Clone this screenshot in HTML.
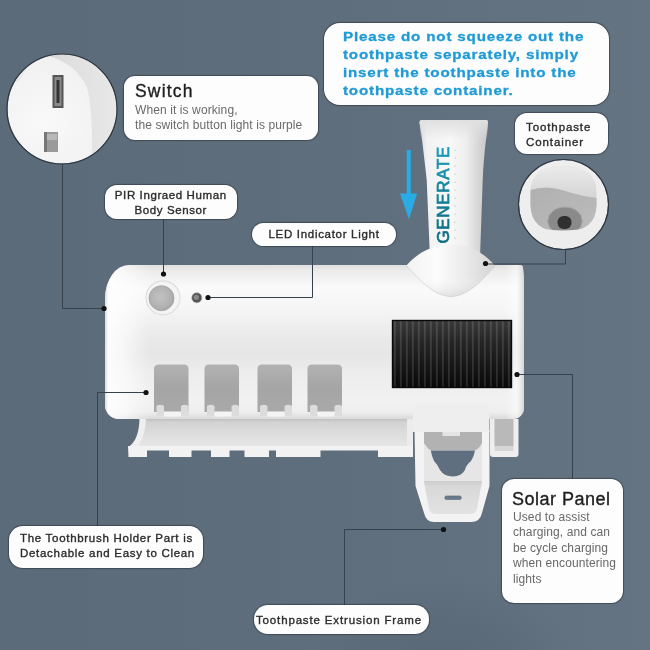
<!DOCTYPE html>
<html><head><meta charset="utf-8">
<style>
html,body{margin:0;padding:0;}
body{width:650px;height:650px;overflow:hidden;position:relative;background:#5e6e7f;font-family:"Liberation Sans",sans-serif;}
.bx{position:absolute;background:#fdfdfd;box-sizing:border-box;box-shadow:0 0 1px 1px rgba(42,52,62,0.6);}
.k{-webkit-text-stroke:0.35px currentColor;}
.t{position:absolute;white-space:nowrap;}
svg{position:absolute;left:0;top:0;}
#wrap{position:absolute;left:0;top:0;width:650px;height:650px;filter:blur(0.35px);}
</style></head><body><div id="wrap">
<svg width="650" height="650" viewBox="0 0 650 650">
<defs>
 <linearGradient id="bg" x1="0" y1="0" x2="1" y2="0">
  <stop offset="0" stop-color="#5c6b79"/>
  <stop offset="0.5" stop-color="#5f6e7c"/>
  <stop offset="1" stop-color="#647482"/>
 </linearGradient>
 <linearGradient id="body" x1="0" y1="265" x2="0" y2="419" gradientUnits="userSpaceOnUse">
  <stop offset="0" stop-color="#e0e0e0"/>
  <stop offset="0.045" stop-color="#ededed"/>
  <stop offset="0.15" stop-color="#fafafa"/>
  <stop offset="0.29" stop-color="#f5f5f5"/>
  <stop offset="0.48" stop-color="#e9e9e9"/>
  <stop offset="0.58" stop-color="#e6e6e6"/>
  <stop offset="0.71" stop-color="#ededed"/>
  <stop offset="0.88" stop-color="#f1f1f1"/>
  <stop offset="0.955" stop-color="#eeeeee"/>
  <stop offset="1" stop-color="#dadada"/>
 </linearGradient>
 <linearGradient id="bodyL" x1="105" y1="0" x2="150" y2="0" gradientUnits="userSpaceOnUse">
  <stop offset="0" stop-color="#d8d8d8" stop-opacity="0.9"/>
  <stop offset="0.07" stop-color="#ffffff" stop-opacity="0.9"/>
  <stop offset="0.45" stop-color="#ffffff" stop-opacity="0.6"/>
  <stop offset="1" stop-color="#ffffff" stop-opacity="0"/>
 </linearGradient>
 <linearGradient id="bodyR" x1="505" y1="0" x2="524" y2="0" gradientUnits="userSpaceOnUse">
  <stop offset="0" stop-color="#ffffff" stop-opacity="0"/>
  <stop offset="0.6" stop-color="#ffffff" stop-opacity="0.5"/>
  <stop offset="1" stop-color="#d0d0d0" stop-opacity="0.8"/>
 </linearGradient>
 <linearGradient id="slot" x1="0" y1="0" x2="0" y2="1">
  <stop offset="0" stop-color="#b2b2b2"/>
  <stop offset="0.5" stop-color="#a5a5a5"/>
  <stop offset="1" stop-color="#a9a9a9"/>
 </linearGradient>
 <linearGradient id="tray" x1="0" y1="418" x2="0" y2="447" gradientUnits="userSpaceOnUse">
  <stop offset="0" stop-color="#bcbcbc"/>
  <stop offset="0.15" stop-color="#d2d2d2"/>
  <stop offset="0.5" stop-color="#dcdcdc"/>
  <stop offset="1" stop-color="#e6e6e6"/>
 </linearGradient>
 <linearGradient id="solar" x1="0" y1="0" x2="0" y2="1">
  <stop offset="0" stop-color="#3a3a3a"/>
  <stop offset="0.3" stop-color="#262626"/>
  <stop offset="1" stop-color="#080808"/>
 </linearGradient>
 <pattern id="stripes" x="391.9" y="0" width="6" height="10" patternUnits="userSpaceOnUse">
  <rect x="2" y="0" width="1.8" height="10" fill="#ffffff" fill-opacity="0.13"/>
 </pattern>
 <linearGradient id="tube" x1="420" y1="0" x2="488" y2="0" gradientUnits="userSpaceOnUse">
  <stop offset="0" stop-color="#dadada"/>
  <stop offset="0.1" stop-color="#f2f2f2"/>
  <stop offset="0.45" stop-color="#f8f8f8"/>
  <stop offset="0.68" stop-color="#eeeeee"/>
  <stop offset="0.88" stop-color="#d4d4d4"/>
  <stop offset="1" stop-color="#c6c6c6"/>
 </linearGradient>
 <linearGradient id="tubeTop" x1="0" y1="120" x2="0" y2="140" gradientUnits="userSpaceOnUse">
  <stop offset="0" stop-color="#e0e0e0"/>
  <stop offset="1" stop-color="#e0e0e0" stop-opacity="0"/>
 </linearGradient>
 <linearGradient id="funnel" x1="406" y1="0" x2="495" y2="0" gradientUnits="userSpaceOnUse">
  <stop offset="0" stop-color="#f2f2f2"/>
  <stop offset="0.35" stop-color="#fcfcfc"/>
  <stop offset="0.6" stop-color="#eeeeee"/>
  <stop offset="1" stop-color="#d4d4d4"/>
 </linearGradient>
 <linearGradient id="funnelV" x1="0" y1="244" x2="0" y2="297" gradientUnits="userSpaceOnUse">
  <stop offset="0" stop-color="#ffffff" stop-opacity="0"/>
  <stop offset="0.6" stop-color="#ffffff" stop-opacity="0"/>
  <stop offset="1" stop-color="#c8c8c8" stop-opacity="0.5"/>
 </linearGradient>
 <linearGradient id="gen" x1="0" y1="0" x2="98" y2="0" gradientUnits="userSpaceOnUse">
  <stop offset="0" stop-color="#0d6c80"/>
  <stop offset="0.5" stop-color="#13829a"/>
  <stop offset="1" stop-color="#1c9cbc"/>
 </linearGradient>
 <radialGradient id="sw" cx="0.35" cy="0.6" r="0.75">
  <stop offset="0" stop-color="#f9f9f9"/>
  <stop offset="0.7" stop-color="#f1f1f1"/>
  <stop offset="1" stop-color="#dedede"/>
 </radialGradient>
 <linearGradient id="swR" x1="0" y1="0" x2="1" y2="0">
  <stop offset="0" stop-color="#d6d6d6"/>
  <stop offset="0.35" stop-color="#e0e0e0"/>
  <stop offset="1" stop-color="#eaeaea"/>
 </linearGradient>
 <radialGradient id="pir" cx="0.45" cy="0.45" r="0.6">
  <stop offset="0" stop-color="#c2c2c2"/>
  <stop offset="0.7" stop-color="#b2b2b2"/>
  <stop offset="1" stop-color="#a4a4a4"/>
 </radialGradient>
 <linearGradient id="extL" x1="0" y1="481" x2="0" y2="514" gradientUnits="userSpaceOnUse">
  <stop offset="0" stop-color="#cdcdcd"/>
  <stop offset="0.2" stop-color="#d9d9d9"/>
  <stop offset="1" stop-color="#e2e2e2"/>
 </linearGradient>
 <radialGradient id="vig" cx="0.5" cy="0.5" r="0.5">
  <stop offset="0" stop-color="#2a3846" stop-opacity="0.16"/>
  <stop offset="1" stop-color="#2a3846" stop-opacity="0"/>
 </radialGradient>
 <clipPath id="swc"><circle cx="62" cy="109" r="54.5"/></clipPath>
 <clipPath id="cc"><circle cx="563.5" cy="204.5" r="44.5"/></clipPath>
 <linearGradient id="ext" x1="0" y1="405" x2="0" y2="521" gradientUnits="userSpaceOnUse">
  <stop offset="0" stop-color="#eeeeee"/>
  <stop offset="0.5" stop-color="#ececec"/>
  <stop offset="1" stop-color="#f4f4f4"/>
 </linearGradient>
 <linearGradient id="cup" x1="0" y1="0" x2="1" y2="1">
  <stop offset="0" stop-color="#b0b0b0"/>
  <stop offset="0.5" stop-color="#b6b6b6"/>
  <stop offset="1" stop-color="#bcbcbc"/>
 </linearGradient>
 <linearGradient id="ctop" x1="0" y1="164" x2="0" y2="205" gradientUnits="userSpaceOnUse">
  <stop offset="0" stop-color="#ececec"/>
  <stop offset="0.3" stop-color="#e4e4e4"/>
  <stop offset="1" stop-color="#cfcfcf"/>
 </linearGradient>
</defs>
<rect width="650" height="650" fill="url(#bg)"/>
<ellipse cx="450" cy="665" rx="140" ry="90" fill="url(#vig)"/>

<!-- tube -->
<path d="M419.5,122 Q419.5,120 422,120 L486,120 Q488,120 488,122 L486.5,135 Q483.5,160 482.7,180 L480,258 L430,258 L426.7,180 Q424.5,160 421.5,135 Z" fill="url(#tube)"/>
<path d="M419.5,122 Q419.5,120 422,120 L486,120 Q488,120 488,122 L487,140 L421,140 Z" fill="url(#tubeTop)"/>
<text transform="translate(449,243.5) rotate(-90)" font-family="Liberation Sans" font-size="17" fill="url(#gen)" stroke="url(#gen)" stroke-width="0.7" letter-spacing="0.65">GENERATE</text>
<g fill="#a0acb0">
 <circle cx="455" cy="150" r="0.6"/><circle cx="455" cy="158" r="0.6"/><circle cx="455" cy="166" r="0.6"/><circle cx="455" cy="174" r="0.6"/><circle cx="455" cy="182" r="0.6"/><circle cx="455" cy="190" r="0.6"/><circle cx="455" cy="198" r="0.6"/><circle cx="455" cy="206" r="0.6"/><circle cx="455" cy="214" r="0.6"/><circle cx="455" cy="222" r="0.6"/><circle cx="455" cy="230" r="0.6"/><circle cx="455" cy="238" r="0.6"/>
</g>

<!-- arrow -->
<rect x="406.7" y="150" width="4.1" height="46" fill="#29abe5"/>
<path d="M400,193.5 L417,193.5 L409,219.5 Z" fill="#29abe5"/>

<!-- tray -->
<path d="M143,417 L413,417 L413,448 L133,448 L140,430 Z" fill="url(#tray)"/>
<path d="M139.5,417 C139.5,432 136,442 128,447.5 L137,447.5 C142,442 145.5,432 146,417 Z" fill="#efefef"/>
<path d="M407,418 L413,418 L413,450 L407,450 Z" fill="#ececec"/>
<path d="M128,446 L413,446 L413,457 L378,457 L378,450.5 L320.5,450.5 L320.5,457 L276,457 L276,450.5 L269,450.5 L269,457 L244.5,457 L244.5,450.5 L229.5,450.5 L229.5,457 L211,457 L211,450.5 L191.5,450.5 L191.5,457 L169,457 L169,450.5 L147,450.5 L147,457 L128.5,457 Z" fill="#f2f2f2"/>

<!-- body -->
<path d="M129,265 L520,265 A3,3 0 0 1 523,268 L524,278 L524,408 A11,11 0 0 1 513,419 L119,419 A14,14 0 0 1 105,405 L105,299 A24,34 0 0 1 129,265 Z" fill="url(#body)"/>
<path d="M129,265 L150,265 L150,419 L119,419 A14,14 0 0 1 105,405 L105,299 A24,34 0 0 1 129,265 Z" fill="url(#bodyL)"/>
<path d="M505,265 L520,265 A3,3 0 0 1 523,268 L524,278 L524,408 A11,11 0 0 1 513,419 L505,419 Z" fill="url(#bodyR)"/>

<!-- slots -->
<g>
 <path d="M154,412 L154,369 Q154,364.5 158.5,364.5 L184,364.5 Q188.5,364.5 188.5,369 L188.5,412 Z" fill="url(#slot)"/>
 <path d="M204.5,412 L204.5,369 Q204.5,364.5 209.0,364.5 L234.5,364.5 Q239.0,364.5 239.0,369 L239.0,412 Z" fill="url(#slot)"/>
 <path d="M257.5,412 L257.5,369 Q257.5,364.5 262.0,364.5 L287.5,364.5 Q292.0,364.5 292.0,369 L292.0,412 Z" fill="url(#slot)"/>
 <path d="M307.5,412 L307.5,369 Q307.5,364.5 312.0,364.5 L337.5,364.5 Q342.0,364.5 342.0,369 L342.0,412 Z" fill="url(#slot)"/>
 <path d="M156.5,406 q3.75,-2.5 7.5,0 v10 h-7.5z M181,406 q3.75,-2.5 7.5,0 v10 h-7.5z" fill="#dcdcdc"/>
 <path d="M164,411.5 h17 v5 h-17z" fill="#f4f4f4"/>
 <path d="M207.0,406 q3.75,-2.5 7.5,0 v10 h-7.5z M231.5,406 q3.75,-2.5 7.5,0 v10 h-7.5z" fill="#dcdcdc"/>
 <path d="M214.5,411.5 h17 v5 h-17z" fill="#f4f4f4"/>
 <path d="M260.0,406 q3.75,-2.5 7.5,0 v10 h-7.5z M284.5,406 q3.75,-2.5 7.5,0 v10 h-7.5z" fill="#dcdcdc"/>
 <path d="M267.5,411.5 h17 v5 h-17z" fill="#f4f4f4"/>
 <path d="M310.0,406 q3.75,-2.5 7.5,0 v10 h-7.5z M334.5,406 q3.75,-2.5 7.5,0 v10 h-7.5z" fill="#dcdcdc"/>
 <path d="M317.5,411.5 h17 v5 h-17z" fill="#f4f4f4"/>
</g>

<!-- solar panel -->
<rect x="392.5" y="320" width="119.5" height="68" fill="url(#solar)"/>
<rect x="392.5" y="320" width="119.5" height="68" fill="url(#stripes)"/>
<rect x="392.5" y="320.5" width="119" height="67" fill="none" stroke="#0a0a0a" stroke-width="1.4"/>

<!-- funnel -->
<path d="M406.5,265.5 C420,280 432,295 451,296.8 C470,295 482,280 495,266 C486,254 470,244.5 451,244.5 C432,244.5 416,254 406.5,265.5 Z" fill="url(#funnel)"/>
<path d="M406.5,265.5 C420,280 432,295 451,296.8 C470,295 482,280 495,266 C486,254 470,244.5 451,244.5 C432,244.5 416,254 406.5,265.5 Z" fill="url(#funnelV)"/>
<path d="M406.5,265.5 C420,280 432,295 451,296.8 C470,295 482,280 495,266" fill="none" stroke="#cfcfcf" stroke-width="1" opacity="0.7"/>

<!-- PIR + LED -->
<circle cx="163" cy="297.8" r="17" fill="#f4f4f4" stroke="#dedede" stroke-width="1.2"/>
<circle cx="161.5" cy="298.2" r="12.5" fill="url(#pir)" stroke="#a2a2a2" stroke-width="0.8"/>
<circle cx="196.8" cy="297.8" r="5" fill="#555"/>
<circle cx="196.3" cy="297.3" r="2.6" fill="#8a8a8a"/>
<circle cx="196.8" cy="297.8" r="5" fill="none" stroke="#9a9a9a" stroke-width="0.6"/>

<!-- extrusion frame -->
<path d="M490,419 L518.5,419 L518.5,454 Q518.5,457 515.5,457 L493,457 Q490,457 490,454 Z" fill="#eeeeee"/>
<path d="M494.5,419 L513.5,419 L513.5,446 L494.5,446 Z" fill="#b9b9b9"/>
<path d="M494.5,446 L513.5,446 L513.5,451 L494.5,451 Z" fill="#d6d6d6"/>
<path d="M414.5,430 L489.5,430 L489.5,486 L482,513 Q480,522 471,522 L434,522 Q426,522 424,513 L415.5,486 Z" fill="#f3f3f3"/>
<rect x="424" y="432" width="58" height="18.5" fill="#b2b2b2"/>
<rect x="442.5" y="432" width="17.5" height="4" fill="#e4e4e4"/>
<path d="M424,443 Q428,449 431,450.5 L475,450.5 Q479,449 482,443 L482,485 L424,485 Z" fill="#e6e6e6"/>
<path d="M430.8,450.5 L475,450.5 Q474,457 471,461 Q466,465 465,470 Q461,476.5 453,476.5 Q444,476.5 440,470 Q438,465 434,461 Q432,457 430.8,450.5 Z" fill="#5f6f7f"/>
<path d="M424,481 L482,481 L477,509 Q476,514 470,514 L436,514 Q430,514 429,509 Z" fill="url(#extL)"/>
<rect x="444.8" y="495.9" width="16.5" height="3.6" rx="1.5" fill="#687a8c" stroke="#55606a" stroke-width="0.5"/>
<path d="M413,405 L489.5,405 L489.5,432 L413,432 Z" fill="#eeeeee"/>

<!-- connector lines -->
<g stroke="#36414c" stroke-width="1" fill="none">
 <polyline points="62.5,164 62.5,308.5 104,308.5"/>
 <polyline points="163.5,219 163.5,274"/>
 <polyline points="312.5,246 312.5,297.5 208,297.5"/>
 <polyline points="565.5,249 565.5,264 486,264"/>
 <polyline points="517,374.5 572.5,374.5 572.5,479"/>
 <polyline points="146,392.5 97.5,392.5 97.5,526"/>
 <polyline points="443,529.5 344.5,529.5 344.5,605"/>
</g>

<!-- dots -->
<g fill="#111">
 <circle cx="104" cy="308.5" r="2.6"/>
 <circle cx="163.5" cy="274" r="2.6"/>
 <circle cx="208" cy="297.5" r="2.6"/>
 <circle cx="485.5" cy="263.5" r="2.6"/>
 <circle cx="517" cy="374.5" r="2.6"/>
 <circle cx="146" cy="392.5" r="2.6"/>
 <circle cx="443.5" cy="529.5" r="2.6"/>
</g>

<!-- switch circle -->
<g clip-path="url(#swc)">
 <rect x="0" y="50" width="130" height="120" fill="url(#sw)"/>
 <path d="M44,55 Q76,62 87,88 Q93,105 92,170 L130,170 L130,50 Z" fill="url(#swR)"/>
 <path d="M0,50 L50,50 Q30,60 20,80 L0,90 Z" fill="#e2e2e2" opacity="0.6"/>
 <rect x="52.5" y="75" width="11" height="33" fill="#555"/>
 <rect x="54.5" y="77" width="7" height="29" fill="#8a8a8a"/>
 <rect x="56.5" y="80" width="3" height="23" fill="#333"/>
 <rect x="44" y="132" width="14" height="20" fill="#9a9a9a"/>
 <rect x="44" y="132" width="3" height="20" fill="#777"/>
 <rect x="47" y="134" width="10" height="6" fill="#b8b8b8"/>
</g>
<circle cx="62" cy="109" r="55" fill="none" stroke="#2e3640" stroke-width="1.2"/>

<!-- container circle -->
<g clip-path="url(#cc)">
 <rect x="515" y="155" width="100" height="100" fill="#eeeeee"/>
 <path d="M530.5,192 Q530,167 563,165 Q597,167 596.5,192 L596.5,205 Q596,232 563,232 Q531,232 530.5,205 Z" fill="url(#ctop)"/>
 <path d="M530.5,190 Q546,185 562,190 Q580,196 596.5,198 L596.5,205 Q596,232 563,232 Q531,232 530.5,205 Z" fill="url(#cup)"/>
 <ellipse cx="565" cy="221" rx="17.3" ry="14" fill="#8a8a8a" stroke="#a8a8a8" stroke-width="1"/>
 <rect x="557.5" y="216" width="14" height="13" rx="6" fill="#303030"/>
 <path d="M529,219 Q534,230.5 563,230.5 Q592,230.5 598,219 L602,255 L525,255 Z" fill="#ededed"/>
</g>
<circle cx="563.5" cy="204.5" r="45" fill="none" stroke="#2e3640" stroke-width="1.2"/>
</svg>

<!-- callout boxes -->
<div class="bx" style="left:324px;top:22.5px;width:284.5px;height:82.5px;border-radius:16px;"></div>
<div class="t" style="left:342.5px;top:28px;font-weight:bold;font-size:13.5px;line-height:18px;color:#1e9ad6;letter-spacing:0.72px;-webkit-text-stroke:0.3px #1e9ad6;transform:scaleX(1.125);transform-origin:0 0;">Please do not squeeze out the<br>toothpaste separately, simply<br>insert the toothpaste into the<br>toothpaste container.</div>

<div class="bx" style="left:123.5px;top:76px;width:194.5px;height:64px;border-radius:11px;"></div>
<div class="t k" style="left:135px;top:80.5px;font-size:17.5px;color:#1e1e1e;letter-spacing:1.2px;">Switch</div>
<div class="t" style="left:135px;top:103px;font-size:12px;line-height:15.3px;color:#6a6a6a;letter-spacing:0.1px;">When it is working,<br>the switch button light is purple</div>

<div class="bx" style="left:104.5px;top:185px;width:132.5px;height:34px;border-radius:12px;"></div>
<div class="t k" style="left:104.5px;width:132.5px;top:188px;text-align:center;font-size:11.5px;line-height:15px;color:#2b2b2b;letter-spacing:0.6px;">PIR Ingraed Human<br>Body Sensor</div>

<div class="bx" style="left:252px;top:223px;width:144px;height:23px;border-radius:12px;"></div>
<div class="t k" style="left:252px;width:144px;top:227px;text-align:center;font-size:11.5px;line-height:15px;color:#2b2b2b;letter-spacing:0.7px;">LED Indicator Light</div>

<div class="bx" style="left:514.5px;top:112.5px;width:93.5px;height:41.5px;border-radius:12px;"></div>
<div class="t k" style="left:526px;top:120px;font-size:11.5px;line-height:15px;color:#2b2b2b;letter-spacing:0.9px;">Toothpaste<br>Container</div>

<div class="bx" style="left:501.5px;top:479px;width:121px;height:124px;border-radius:12px;"></div>
<div class="t k" style="left:512px;top:488.5px;font-size:18px;color:#1e1e1e;letter-spacing:0.5px;">Solar Panel</div>
<div class="t" style="left:513px;top:509.5px;font-size:12px;line-height:15.6px;color:#686868;letter-spacing:0.1px;">Used to assist<br>charging, and can<br>be cycle charging<br>when encountering<br>lights</div>

<div class="bx" style="left:8.5px;top:526px;width:194.5px;height:41.5px;border-radius:14px;"></div>
<div class="t k" style="left:20px;top:531px;font-size:11.5px;line-height:14.6px;color:#2b2b2b;letter-spacing:0.7px;">The Toothbrush Holder Part is<br>Detachable and Easy to Clean</div>

<div class="bx" style="left:253.5px;top:604.5px;width:175px;height:29px;border-radius:14px;"></div>
<div class="t k" style="left:256px;top:613px;font-size:11.5px;line-height:15px;color:#2b2b2b;letter-spacing:0.85px;">Toothpaste Extrusion Frame</div>
</div></body></html>
